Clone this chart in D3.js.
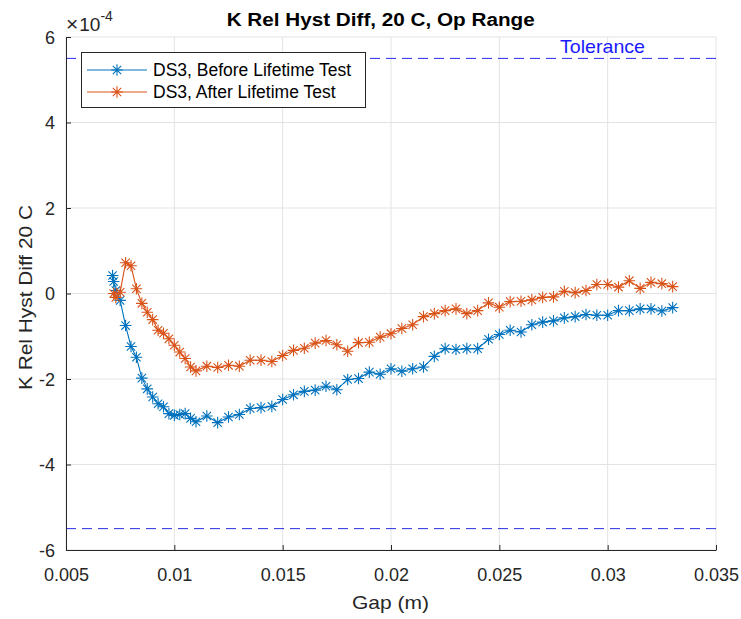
<!DOCTYPE html>
<html><head><meta charset="utf-8">
<script src="https://cdn.jsdelivr.net/npm/d3@7"></script>
<style>body{margin:0;background:#fff;} text{font-family:"Liberation Sans",Arial,sans-serif;}</style>
</head><body><svg id="c" width="741" height="619"></svg>
<script>
const gapBefore = [0.00715,0.0072,0.0073,0.0075,0.00775,0.008,0.00825,0.0085,0.00875,0.009,0.00925,0.0095,0.00975,0.01,0.01025,0.0105,0.01075,0.011,
 0.0115,0.012,0.0125,0.013,0.0135,0.014,0.0145,0.015,0.0155,0.016,0.0165,0.017,0.0175,0.018,0.0185,0.019,0.0195,0.02,0.0205,0.021,0.0215,0.022,0.0225,0.023,0.0235,0.024,0.0245,0.025,0.0255,0.026,0.0265,0.027,0.0275,0.028,0.0285,0.029,0.0295,0.03,0.0305,0.031,0.0315,0.032,0.0325,0.033];
const before = [0.42,0.28,0.07,-0.16,-0.75,-1.24,-1.49,-1.98,-2.23,-2.42,-2.58,-2.65,-2.81,-2.85,-2.83,-2.81,-2.92,-3.00,
 -2.865,-3.02,-2.89,-2.83,-2.69,-2.67,-2.64,-2.48,-2.37,-2.29,-2.26,-2.17,-2.25,-2.01,-1.99,-1.84,-1.89,-1.76,-1.82,-1.76,-1.72,-1.47,-1.29,-1.31,-1.29,-1.29,-1.07,-0.96,-0.86,-0.90,-0.73,-0.67,-0.64,-0.57,-0.54,-0.49,-0.51,-0.51,-0.40,-0.40,-0.36,-0.36,-0.41,-0.33];
const gapAfter = [0.0072,0.0073,0.0075,0.00775,0.008,0.00825,0.0085,0.00875,0.009,0.00925,0.0095,0.00975,0.01,0.01025,0.0105,0.01075,0.011,
 0.0115,0.012,0.0125,0.013,0.0135,0.014,0.0145,0.015,0.0155,0.016,0.0165,0.017,0.0175,0.018,0.0185,0.019,0.0195,0.02,0.0205,0.021,0.0215,0.022,0.0225,0.023,0.0235,0.024,0.0245,0.025,0.0255,0.026,0.0265,0.027,0.0275,0.028,0.0285,0.029,0.0295,0.03,0.0305,0.031,0.0315,0.032,0.0325,0.033];
const after = [0.0,-0.09,0.03,0.72,0.65,0.11,-0.23,-0.44,-0.61,-0.86,-0.93,-1.06,-1.21,-1.37,-1.52,-1.72,-1.81,
 -1.70,-1.73,-1.68,-1.70,-1.56,-1.56,-1.59,-1.45,-1.33,-1.28,-1.16,-1.10,-1.20,-1.35,-1.15,-1.14,-1.02,-0.94,-0.82,-0.73,-0.54,-0.47,-0.40,-0.36,-0.47,-0.40,-0.22,-0.32,-0.19,-0.18,-0.15,-0.09,-0.08,0.05,0.02,0.07,0.21,0.21,0.15,0.30,0.12,0.26,0.23,0.16];
const tolerance = 5.5;
const xTicks = [0.005,0.01,0.015,0.02,0.025,0.03,0.035];
const yTicks = [-6,-4,-2,0,2,4,6];
const seriesNames = ["DS3, Before Lifetime Test","DS3, After Lifetime Test"];
const colors = ["#0072BD","#D95319"];

const svg = d3.select("#c");
const L=66, R=716, T=37, B=550;
const x = d3.scaleLinear().domain([0.005,0.035]).range([L,R]);
const y = d3.scaleLinear().domain([-6,6]).range([B,T]);
const ax = "#262626";
const FF = "Liberation Sans, Arial, sans-serif";

// grid
const g = svg.append("g");
g.selectAll(".gx").data(xTicks).join("line").attr("x1",d=>x(d)).attr("x2",d=>x(d)).attr("y1",T).attr("y2",B).attr("stroke","#e3e3e3");
g.selectAll(".gy").data(yTicks).join("line").attr("y1",d=>y(d)).attr("y2",d=>y(d)).attr("x1",L).attr("x2",R).attr("stroke","#e3e3e3");

// tolerance lines
[tolerance,-tolerance].forEach(t=>{
  svg.append("line").attr("x1",L).attr("x2",R).attr("y1",y(t)).attr("y2",y(t)).attr("stroke","#2b2bf0").attr("stroke-width",1).attr("stroke-dasharray","10,6");
});
svg.append("text").attr("x",560).attr("y",52.5).attr("font-size",18.5).attr("fill","#1a1aff")
  .attr("textLength",85).attr("lengthAdjust","spacingAndGlyphs").text("Tolerance");

// axes
const xa = svg.append("g").attr("transform",`translate(0,${B})`).call(d3.axisBottom(x).tickValues(xTicks).tickFormat(d=>String(+d.toFixed(3))).tickSizeInner(-5).tickSizeOuter(0).tickPadding(0));
const ya = svg.append("g").attr("transform",`translate(${L},0)`).call(d3.axisLeft(y).tickValues(yTicks).tickSizeInner(-5).tickSizeOuter(0).tickPadding(11));
[xa,ya].forEach(a=>{a.select(".domain").attr("stroke",ax);a.selectAll("line").attr("stroke",ax);a.selectAll("text").attr("fill",ax).attr("font-size",18).attr("font-family",FF);});
xa.selectAll("text").attr("y",31).attr("dy",0);
ya.selectAll("text").text(d=>d<0?"-"+Math.abs(d):d).attr("dy","0.35em");

// series
function star(sel, cx, cy, col){
  const s=5.8, d=s*0.72;
  const p=`M${cx-s},${cy}L${cx+s},${cy}M${cx},${cy-s}L${cx},${cy+s}M${cx-d},${cy-d}L${cx+d},${cy+d}M${cx-d},${cy+d}L${cx+d},${cy-d}`;
  sel.append("path").attr("d",p).attr("stroke",col).attr("stroke-width",1.1).attr("fill","none");
}
const data = [gapBefore.map((g,i)=>[g,before[i]]), gapAfter.map((g,i)=>[g,after[i]])];
const line = d3.line().x(d=>x(d[0])).y(d=>y(d[1]));
data.forEach((ds,k)=>{
  const sg = svg.append("g");
  sg.append("path").datum(ds).attr("d",line).attr("fill","none").attr("stroke",colors[k]).attr("stroke-width",1.1);
  ds.forEach(d=>star(sg,x(d[0]),y(d[1]),colors[k]));
});

// multiplier
const m = svg.append("text").attr("x",66).attr("y",31).attr("font-size",19).attr("fill",ax);
m.append("tspan").attr("font-size",21).text("\u00d7");
m.append("tspan").attr("dx",1).text("10");
m.append("tspan").attr("font-size",14).attr("dy",-10).text("-4");

// title
svg.append("text").attr("x",226.7).attr("y",25.5).attr("font-size",17.5).attr("font-weight","bold").attr("fill","#000")
  .attr("textLength",308).attr("lengthAdjust","spacingAndGlyphs").text("K Rel Hyst Diff, 20 C, Op Range");
// labels
svg.append("text").attr("x",352).attr("y",609).attr("font-size",18.5).attr("fill",ax)
  .attr("textLength",77).attr("lengthAdjust","spacingAndGlyphs").text("Gap (m)");
svg.append("text").attr("transform",`translate(31.5,390) rotate(-90)`).attr("font-size",18.5).attr("fill",ax)
  .attr("textLength",185).attr("lengthAdjust","spacingAndGlyphs").text("K Rel Hyst Diff 20 C");

// legend
const lg = svg.append("g");
lg.append("rect").attr("x",81.5).attr("y",52.5).attr("width",284).attr("height",55).attr("fill","#fff").attr("stroke",ax).attr("stroke-width",1);
seriesNames.forEach((n,i)=>{
  const yy = 70+i*22;
  lg.append("line").attr("x1",87).attr("x2",147).attr("y1",yy).attr("y2",yy).attr("stroke",colors[i]);
  star(lg,117,yy,colors[i]);
  lg.append("text").attr("x",153).attr("y",yy+6).attr("font-size",17.5).attr("fill","#000").text(n);
});
</script></body></html>
